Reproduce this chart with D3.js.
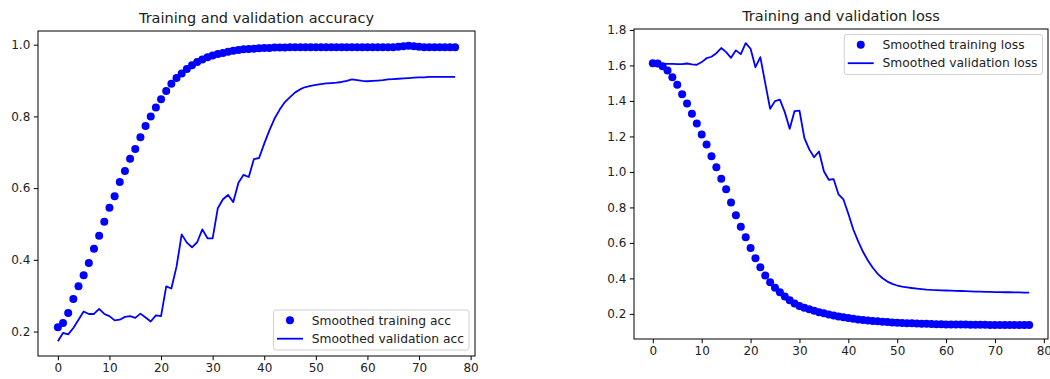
<!DOCTYPE html>
<html>
<head>
<meta charset="utf-8">
<script src="https://cdn.jsdelivr.net/npm/d3@7"></script>
<style>
  html, body { margin: 0; padding: 0; background: #fff; overflow: hidden; }
  svg { display: block; font-family: "DejaVu Sans", sans-serif; }
</style>
</head>
<body>
<svg id="chart" width="1050" height="379"></svg>
<script>
// Epoch indices 0..77
const epochs = d3.range(78);

// Smoothed training accuracy per epoch
const trainAcc = [
  0.212, 0.224, 0.252, 0.291, 0.326, 0.357, 0.391, 0.431, 0.467, 0.506,
  0.545, 0.577, 0.617, 0.648, 0.682, 0.709, 0.742, 0.773, 0.800, 0.825,
  0.848, 0.871, 0.891, 0.907, 0.920, 0.932, 0.943, 0.952, 0.959, 0.965,
  0.970, 0.974, 0.977, 0.980, 0.983, 0.985, 0.987, 0.988, 0.989, 0.990,
  0.991, 0.991, 0.992, 0.992, 0.992, 0.993, 0.993, 0.993, 0.993, 0.993,
  0.993, 0.993, 0.993, 0.993, 0.993, 0.993, 0.993, 0.993, 0.993, 0.993,
  0.993, 0.993, 0.993, 0.993, 0.993, 0.993, 0.994, 0.996, 0.997, 0.996,
  0.994, 0.993, 0.993, 0.993, 0.993, 0.993, 0.993, 0.993
];

// Smoothed validation accuracy per epoch
const valAcc = [
  0.173, 0.196, 0.192, 0.210, 0.233, 0.256, 0.249, 0.249, 0.263, 0.249,
  0.243, 0.231, 0.233, 0.241, 0.243, 0.238, 0.250, 0.239, 0.228, 0.245,
  0.243, 0.326, 0.320, 0.381, 0.471, 0.448, 0.435, 0.449, 0.485, 0.460,
  0.460, 0.544, 0.569, 0.581, 0.561, 0.615, 0.637, 0.631, 0.681, 0.684,
  0.724, 0.761, 0.794, 0.819, 0.840, 0.854, 0.867, 0.876, 0.882, 0.885,
  0.888, 0.890, 0.892, 0.893, 0.894, 0.896, 0.899, 0.903, 0.901, 0.899,
  0.898, 0.899, 0.900, 0.901, 0.903, 0.904, 0.905, 0.906, 0.907, 0.908,
  0.909, 0.909, 0.910, 0.910, 0.910, 0.910, 0.910, 0.910
];

// Smoothed training loss per epoch
const trainLoss = [
  1.613, 1.611, 1.596, 1.572, 1.534, 1.491, 1.438, 1.386, 1.328, 1.273,
  1.211, 1.155, 1.089, 1.027, 0.961, 0.903, 0.828, 0.756, 0.691, 0.632,
  0.572, 0.514, 0.463, 0.416, 0.378, 0.347, 0.322, 0.298, 0.277, 0.258,
  0.245, 0.235, 0.226, 0.218, 0.210, 0.203, 0.197, 0.191, 0.186, 0.181,
  0.177, 0.173, 0.169, 0.166, 0.163, 0.160, 0.158, 0.156, 0.154, 0.152,
  0.150, 0.149, 0.148, 0.147, 0.146, 0.145, 0.144, 0.143, 0.142, 0.142,
  0.141, 0.141, 0.140, 0.140, 0.140, 0.139, 0.139, 0.139, 0.139, 0.138,
  0.138, 0.138, 0.138, 0.138, 0.138, 0.138, 0.138, 0.138
];

// Smoothed validation loss per epoch
const valLoss = [
  1.615, 1.611, 1.609, 1.609, 1.609, 1.608, 1.607, 1.611, 1.606, 1.604,
  1.619, 1.641, 1.649, 1.669, 1.698, 1.675, 1.643, 1.685, 1.664, 1.726,
  1.694, 1.590, 1.647, 1.500, 1.356, 1.399, 1.407, 1.337, 1.243, 1.343,
  1.346, 1.192, 1.127, 1.083, 1.115, 1.004, 0.956, 0.959, 0.873, 0.845,
  0.764, 0.677, 0.610, 0.550, 0.501, 0.460, 0.426, 0.401, 0.382, 0.369,
  0.360, 0.354, 0.350, 0.346, 0.343, 0.340, 0.337, 0.335, 0.334, 0.333,
  0.332, 0.331, 0.330, 0.329, 0.328, 0.327, 0.326, 0.325, 0.324, 0.324,
  0.323, 0.323, 0.322, 0.322, 0.321, 0.321, 0.320, 0.320
];

const xTicks = [0, 10, 20, 30, 40, 50, 60, 70, 80];
const accTicks = [0.2, 0.4, 0.6, 0.8, 1.0];
const lossTicks = [0.2, 0.4, 0.6, 0.8, 1.0, 1.2, 1.4, 1.6, 1.8];

const BLUE = "#0000ff";
const svg = d3.select("#chart");

function padded(lo, hi) {
  const m = (hi - lo) * 0.05;
  return [lo - m, hi + m];
}

function panel(opts) {
  const { left, right, top, bottom, title, train, val, yTicks,
          trainLabel, valLabel, legendPos } = opts;
  const g = svg.append("g");

  const x = d3.scaleLinear().domain(padded(0, epochs.length - 1)).range([left, right]);
  const all = train.concat(val);
  const y = d3.scaleLinear().domain(padded(d3.min(all), d3.max(all))).range([bottom, top]);

  // training series as dots
  g.append("g").selectAll("circle").data(epochs).join("circle")
    .attr("cx", d => x(d)).attr("cy", d => y(train[d]))
    .attr("r", 4).attr("fill", BLUE);

  // validation series as a line
  g.append("path").datum(epochs)
    .attr("fill", "none").attr("stroke", BLUE).attr("stroke-width", 1.8)
    .attr("stroke-linejoin", "round")
    .attr("d", d3.line().x(d => x(d)).y(d => y(val[d])));

  // axes
  const xAxis = d3.axisBottom(x).tickValues(xTicks).tickSize(4.2).tickPadding(3.5)
    .tickFormat(d3.format("d"));
  const yAxis = d3.axisLeft(y).tickValues(yTicks).tickSize(4.2).tickPadding(3.5)
    .tickFormat(d3.format(".1f"));

  const gx = g.append("g").attr("transform", `translate(0,${bottom})`).call(xAxis);
  const gy = g.append("g").attr("transform", `translate(${left},0)`).call(yAxis);
  [gx, gy].forEach(a => {
    a.select(".domain").remove();
    a.selectAll("line").attr("stroke", "#000").attr("stroke-width", 1);
    a.selectAll("text").attr("fill", "#222").style("font-size", "12px")
      .style("font-family", "DejaVu Sans, sans-serif");
  });

  // frame
  g.append("rect").attr("x", left).attr("y", top)
    .attr("width", right - left).attr("height", bottom - top)
    .attr("fill", "none").attr("stroke", "#000").attr("stroke-width", 1);

  // title
  g.append("text").attr("x", (left + right) / 2).attr("y", top - 8)
    .attr("text-anchor", "middle").attr("fill", "#222")
    .style("font-size", "14.5px").text(title);

  // legend
  const lg = g.append("g");
  const box = lg.append("rect").attr("fill", "#fff").attr("fill-opacity", 0.8)
    .attr("stroke", "#d0d0d0").attr("stroke-width", 1).attr("rx", 2.5);
  const t1 = lg.append("text").attr("x", 38.3).attr("y", 14.5).attr("fill", "#222")
    .style("font-size", "12.3px").text(trainLabel);
  const t2 = lg.append("text").attr("x", 38.3).attr("y", 32.7).attr("fill", "#222")
    .style("font-size", "12.3px").text(valLabel);
  lg.append("circle").attr("cx", 16.5).attr("cy", 10.3).attr("r", 4).attr("fill", BLUE);
  lg.append("line").attr("x1", 3.5).attr("x2", 29.5).attr("y1", 28.7).attr("y2", 28.7)
    .attr("stroke", BLUE).attr("stroke-width", 1.8);
  const w = Math.max(t1.node().getComputedTextLength(), t2.node().getComputedTextLength()) + 38.3 + 5;
  const h = 40;
  box.attr("x", 0).attr("y", 0).attr("width", w).attr("height", h);
  let lx, ly;
  if (legendPos === "lower right") { lx = right - 6 - w; ly = bottom - 6 - h; }
  else { lx = right - 5.5 - w; ly = top + 5.5; }
  lg.attr("transform", `translate(${lx},${ly})`);
}

panel({
  left: 38, right: 475, top: 31, bottom: 356,
  title: "Training and validation accuracy",
  train: trainAcc, val: valAcc, yTicks: accTicks,
  trainLabel: "Smoothed training acc", valLabel: "Smoothed validation acc",
  legendPos: "lower right"
});

panel({
  left: 634, right: 1048, top: 29, bottom: 339,
  title: "Training and validation loss",
  train: trainLoss, val: valLoss, yTicks: lossTicks,
  trainLabel: "Smoothed training loss", valLabel: "Smoothed validation loss",
  legendPos: "upper right"
});
</script>
</body>
</html>
